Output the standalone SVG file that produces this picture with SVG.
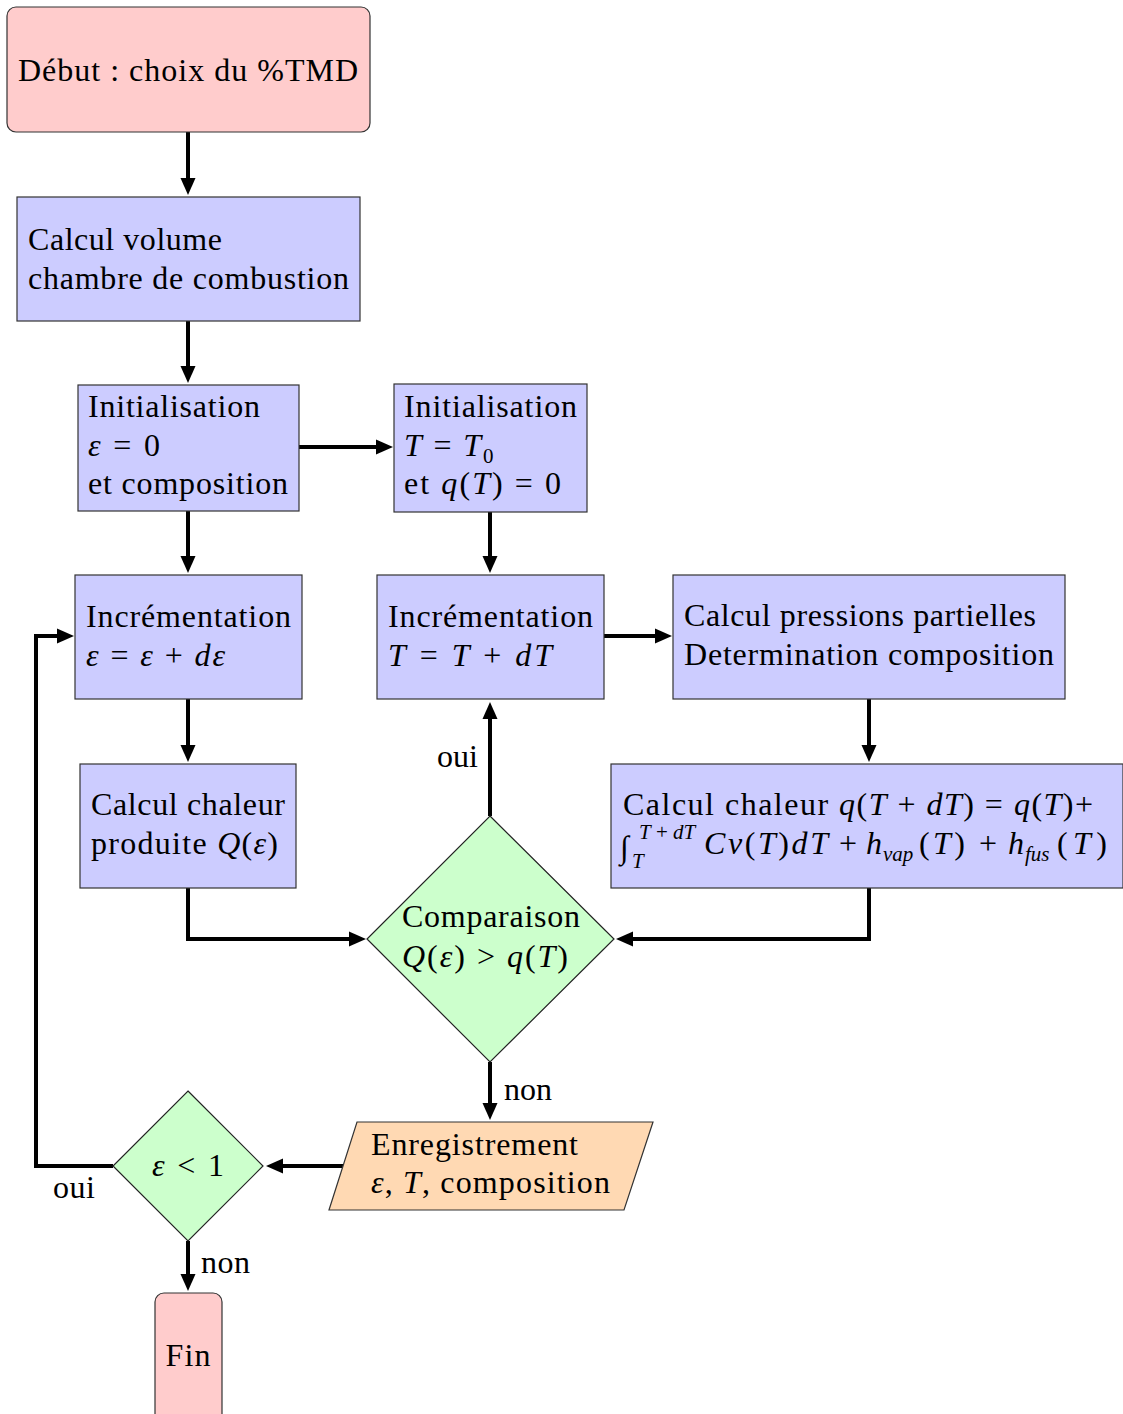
<svg xmlns="http://www.w3.org/2000/svg" width="1123" height="1414" viewBox="0 0 1123 1414">
<style>
.box{fill:#ccccff;stroke:#333;stroke-width:1.2}
.term{fill:#ffcccc;stroke:#333;stroke-width:1.2}
.dec{fill:#ccffcc;stroke:#222;stroke-width:1.2}
.io{fill:#ffd9b3;stroke:#333;stroke-width:1.2}
.t{font-size:32px;fill:#000}
.i{font-style:italic}
.s{font-size:21px}
.conn{fill:none;stroke:#000;stroke-width:4;stroke-linejoin:miter}
</style>
<defs>
<marker id="ah" markerUnits="userSpaceOnUse" markerWidth="20" markerHeight="16" viewBox="0 -8 20 16" refX="2" refY="0" orient="auto">
<path d="M0,-7.5 L17,0 L0,7.5 Z" fill="#000"/>
</marker>
</defs>
<rect width="1123" height="1414" fill="#fff"/>

<g font-family="'Liberation Serif', 'DejaVu Serif', 'Times New Roman', serif">
<g id="connectors">
<path class="conn" marker-end="url(#ah)" d="M188,132 V180"/>
<path class="conn" marker-end="url(#ah)" d="M188,321 V368"/>
<path class="conn" marker-end="url(#ah)" d="M299,447 H378"/>
<path class="conn" marker-end="url(#ah)" d="M188,511 V558"/>
<path class="conn" marker-end="url(#ah)" d="M490,512 V558"/>
<path class="conn" marker-end="url(#ah)" d="M604,636 H657"/>
<path class="conn" marker-end="url(#ah)" d="M869,699 V747"/>
<path class="conn" marker-end="url(#ah)" d="M188,699 V747"/>
<path class="conn" marker-end="url(#ah)" d="M188,888 V939 H351"/>
<path class="conn" marker-end="url(#ah)" d="M869,888 V939 H631"/>
<path class="conn" marker-end="url(#ah)" d="M490,816 V717"/>
<path class="conn" marker-end="url(#ah)" d="M490,1062 V1105"/>
<path class="conn" marker-end="url(#ah)" d="M343,1166 H281"/>
<path class="conn" marker-end="url(#ah)" d="M113,1166 H36 V636 H59"/>
<path class="conn" marker-end="url(#ah)" d="M188,1241 V1276"/>
<text class="t" x="437" y="767" textLength="41">oui</text>
<text class="t" x="504" y="1100" textLength="48">non</text>
<text class="t" x="53" y="1198" textLength="42">oui</text>
<text class="t" x="201" y="1273" textLength="49">non</text>
</g>

<g id="debut">
<rect class="term" x="7" y="7" width="363" height="125" rx="9"/>
<text class="t" x="18" y="81" textLength="340">Début : choix du %TMD</text>
</g>

<g id="volume">
<rect class="box" x="17" y="197" width="343" height="124"/>
<text class="t" x="28" y="250" textLength="194">Calcul volume</text>
<text class="t" x="28" y="289" textLength="321">chambre de combustion</text>
</g>

<g id="init-eps">
<rect class="box" x="78" y="385" width="221" height="126"/>
<text class="t" x="88" y="417" textLength="172">Initialisation</text>
<text class="t" x="88" y="456" textLength="72"><tspan class="i">ε</tspan> = 0</text>
<text class="t" x="88" y="494" textLength="200">et composition</text>
</g>

<g id="init-T">
<rect class="box" x="394" y="384" width="193" height="128"/>
<text class="t" x="404" y="417" textLength="173">Initialisation</text>
<text class="t" x="404" y="456" textLength="77"><tspan class="i">T</tspan> = <tspan class="i">T</tspan></text>
<text class="t s" x="483" y="463">0</text>
<text class="t" x="404" y="494" textLength="157">et <tspan class="i">q</tspan>(<tspan class="i">T</tspan>) = 0</text>
</g>

<g id="incr-eps">
<rect class="box" x="75" y="575" width="227" height="124"/>
<text class="t" x="86" y="627" textLength="205">Incrémentation</text>
<text class="t" x="86" y="666" textLength="139"><tspan class="i">ε</tspan> = <tspan class="i">ε</tspan> + <tspan class="i">dε</tspan></text>
</g>

<g id="incr-T">
<rect class="box" x="377" y="575" width="227" height="124"/>
<text class="t" x="388" y="627" textLength="205">Incrémentation</text>
<text class="t" x="388" y="666" textLength="164"><tspan class="i">T</tspan> = <tspan class="i">T</tspan> + <tspan class="i">dT</tspan></text>
</g>

<g id="pressions">
<rect class="box" x="673" y="575" width="392" height="124"/>
<text class="t" x="684" y="626" textLength="352">Calcul pressions partielles</text>
<text class="t" x="684" y="665" textLength="370">Determination composition</text>
</g>

<g id="chaleur-Q">
<rect class="box" x="80" y="764" width="216" height="124"/>
<text class="t" x="91" y="815" textLength="194">Calcul chaleur</text>
<text class="t" x="91" y="854" textLength="187">produite <tspan class="i">Q</tspan>(<tspan class="i">ε</tspan>)</text>
</g>

<g id="chaleur-q">
<rect class="box" x="611" y="764" width="512" height="124"/>
<text class="t" x="623" y="815" textLength="470">Calcul chaleur <tspan class="i">q</tspan>(<tspan class="i">T</tspan> + <tspan class="i">dT</tspan>) = <tspan class="i">q</tspan>(<tspan class="i">T</tspan>)+</text>
<text class="t i" x="620" y="858" font-size="38">∫</text>
<text class="t s" x="639" y="839"><tspan class="i">T</tspan> + <tspan class="i">dT</tspan></text>
<text class="t s i" x="632" y="868">T</text>
<text class="t" x="704" y="854" textLength="124"><tspan class="i">Cv</tspan>(<tspan class="i">T</tspan>)<tspan class="i">dT</tspan></text>
<text class="t" x="839" y="854">+</text>
<text class="t i" x="866" y="854">h</text>
<text class="t s i" x="883" y="861">vap</text>
<text class="t" x="919" y="854" textLength="46">(<tspan class="i">T</tspan>)</text>
<text class="t" x="979" y="854">+</text>
<text class="t i" x="1008" y="854">h</text>
<text class="t s i" x="1025" y="861">fus</text>
<text class="t" x="1057" y="854" textLength="50">(<tspan class="i">T</tspan>)</text>
</g>

<g id="comparaison">
<polygon class="dec" points="490,816 614,939 490,1062 367,939"/>
<text class="t" x="402" y="927" textLength="178">Comparaison</text>
<text class="t" x="402" y="967" textLength="166"><tspan class="i">Q</tspan>(<tspan class="i">ε</tspan>) &gt; <tspan class="i">q</tspan>(<tspan class="i">T</tspan>)</text>
</g>

<g id="enregistrement">
<polygon class="io" points="357,1122 653,1122 624,1210 329,1210"/>
<text class="t" x="371" y="1155" textLength="207">Enregistrement</text>
<text class="t" x="371" y="1193" textLength="239"><tspan class="i">ε</tspan>, <tspan class="i">T</tspan>, composition</text>
</g>

<g id="test-eps">
<polygon class="dec" points="188,1091 263,1166 188,1241 113,1166"/>
<text class="t" x="188" y="1176" text-anchor="middle" textLength="72"><tspan class="i">ε</tspan> &lt; 1</text>
</g>

<g id="fin">
<rect class="term" x="155" y="1293" width="67" height="140" rx="9"/>
<text class="t" x="188" y="1366" text-anchor="middle" textLength="45">Fin</text>
</g>
</g>
</svg>
